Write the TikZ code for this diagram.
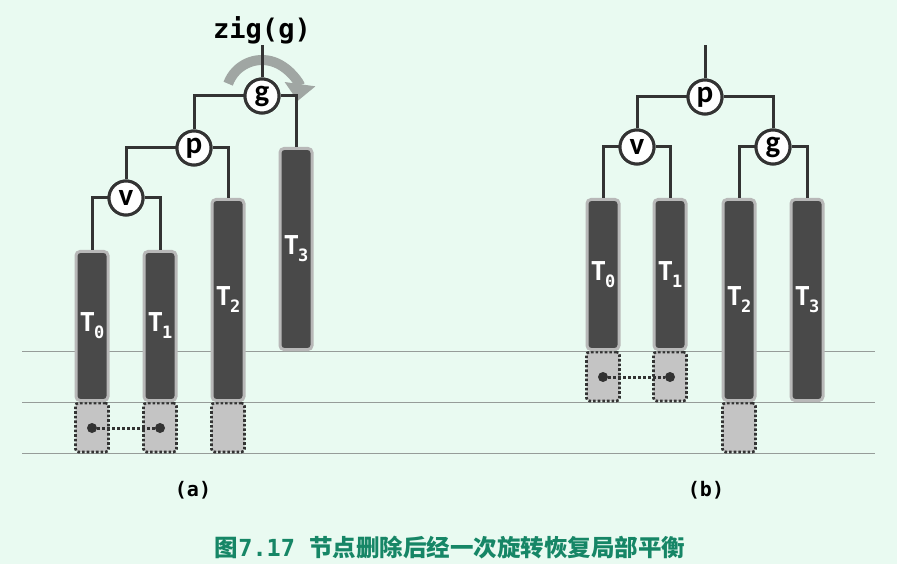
\documentclass[tikz,border=0pt]{standalone}
\usepackage{fontspec}
\setmainfont{DejaVu Sans}
\newfontfamily\monof{DejaVu Sans Mono}
\newfontfamily\letf{Carlito}
\newfontfamily\cjk{Noto Sans CJK SC}
\usetikzlibrary{arrows.meta}
\definecolor{bgc}{RGB}{233,250,241}
\definecolor{darkfill}{RGB}{73,73,73}
\definecolor{bordgray}{RGB}{184,184,184}
\definecolor{linec}{RGB}{51,51,51}
\definecolor{ghost}{RGB}{196,196,196}
\definecolor{hline}{RGB}{150,156,153}
\definecolor{arcc}{RGB}{160,166,163}
\definecolor{capc}{RGB}{22,134,102}
\newcommand{\tlab}[1]{{\monof\bfseries\fontsize{26}{26}\selectfont T\kern-1pt\raisebox{-7pt}{\fontsize{17}{17}\selectfont #1}}}
\tikzset{
  subtree/.style={draw=bordgray, fill=darkfill, line width=3pt, rounded corners=4pt,
    minimum width=32pt, inner sep=0pt, text=white},
  ghostbox/.style={draw=linec, fill=ghost, line width=2.6pt, dotted, rounded corners=3pt,
    minimum width=33pt, minimum height=49pt, inner sep=0pt},
  tnode/.style={circle, draw=linec, fill=white, line width=3pt, minimum size=34pt,
    inner sep=0pt, font=\letf\bfseries\fontsize{31}{31}\selectfont, text=black},
  conn/.style={draw=linec, line width=3pt},
  refline/.style={draw=hline, line width=1pt},
  dotm/.style={circle, fill=linec, minimum size=10pt, inner sep=0pt},
  sublabel/.style={font=\monof\bfseries\fontsize{20}{20}\selectfont, text=black},
  rotarrow/.style={draw=arcc, line width=10pt, -{Triangle[width=30pt,length=17pt]}}
}
\begin{document}
\begin{tikzpicture}[x=1pt,y=-1pt]
\fill[bgc] (0,0) rectangle (897,564);
\useasboundingbox (0,0) rectangle (897,564);

% reference lines
\coordinate (l1a) at (22,351); \coordinate (l1b) at (875,351);
\coordinate (l2a) at (22,402); \coordinate (l2b) at (875,402);
\coordinate (l3a) at (22,453); \coordinate (l3b) at (875,453);
\draw[refline] (l1a) -- (l1b);
\draw[refline] (l2a) -- (l2b);
\draw[refline] (l3a) -- (l3b);

% ---------- (a) ----------
\node[ghostbox] (aD0) at (92,427.5) {};
\node[ghostbox] (aD1) at (160,427.5) {};
\node[ghostbox] (aD2) at (228,427.5) {};
\node[subtree, minimum height=149pt] (aT0) at (92,326) {\tlab{0}};
\node[subtree, minimum height=149pt] (aT1) at (160,326) {\tlab{1}};
\node[subtree, minimum height=201pt] (aT2) at (228,300) {\tlab{2}};
\node[subtree, minimum height=201pt] (aT3) at (296,249) {\tlab{3}};
\node[dotm] (ad0) at (92,428) {};
\node[dotm] (ad1) at (160,428) {};
\draw[linec, line width=3pt, dotted] (ad0) -- (ad1);

\node[tnode] (ag) at (262,96) {g};
\node[tnode] (ap) at (194,148) {p};
\node[tnode] (av) at (126,198) {v};
\coordinate (atop) at (262,45);
\node[font=\monof\bfseries\fontsize{27}{27}\selectfont] (zig) at (262,30) {zig(g)};

\draw[rotarrow] ([shift={(160:36pt)}]ag.center) arc[start angle=160, end angle=-8, radius=36pt];

\draw[conn] (ag) -- (atop);
\draw[conn] (ag) -| (ap);
\draw[conn] (ag) -| (aT3);
\draw[conn] (ap) -| (av);
\draw[conn] (ap) -| (aT2);
\draw[conn] (av) -| (aT0);
\draw[conn] (av) -| (aT1);
\node[tnode] at (ag) {g};
\node[tnode] at (ap) {p};
\node[tnode] at (av) {v};

\node[sublabel] (capa) at (193,490) {(a)};

% ---------- (b) ----------
\node[ghostbox] (bD0) at (603,376.5) {};
\node[ghostbox] (bD1) at (670,376.5) {};
\node[ghostbox] (bD2) at (739,427.5) {};
\node[subtree, minimum height=150pt] (bT0) at (603,274.5) {\tlab{0}};
\node[subtree, minimum height=150pt] (bT1) at (670,274.5) {\tlab{1}};
\node[subtree, minimum height=201pt] (bT2) at (739,300) {\tlab{2}};
\node[subtree, minimum height=201pt] (bT3) at (807,300) {\tlab{3}};
\node[dotm] (bd0) at (603,377) {};
\node[dotm] (bd1) at (670,377) {};
\draw[linec, line width=3pt, dotted] (bd0) -- (bd1);

\node[tnode] (bp) at (705,97) {p};
\node[tnode] (bv) at (637,147) {v};
\node[tnode] (bg) at (773,147) {g};
\coordinate (btop) at (705,45);
\draw[conn] (bp) -- (btop);
\draw[conn] (bp) -| (bv);
\draw[conn] (bp) -| (bg);
\draw[conn] (bv) -| (bT0);
\draw[conn] (bv) -| (bT1);
\draw[conn] (bg) -| (bT2);
\draw[conn] (bg) -| (bT3);
\node[tnode] at (bp) {p};
\node[tnode] at (bv) {v};
\node[tnode] at (bg) {g};

\node[sublabel] (capb) at (706,490) {(b)};

% caption
\node[text=capc, font=\fontsize{23.5}{23.5}\selectfont] (title) at (450,548)
  {{\cjk\bfseries 图}{\monof\bfseries 7.17 }{\cjk\bfseries 节点删除后经一次旋转恢复局部平衡}};
\end{tikzpicture}
\end{document}
